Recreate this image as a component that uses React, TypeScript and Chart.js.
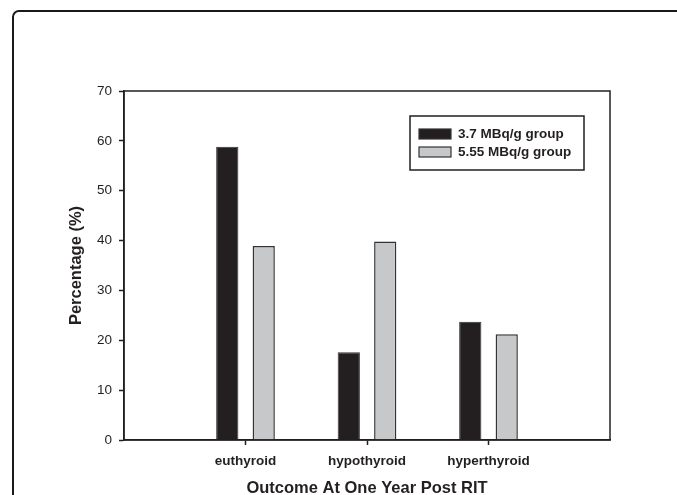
import React, { useEffect, useRef } from "react";
import { Chart, registerables } from "chart.js";

Chart.register(...registerables);

const categories = ["", "euthyroid", "hypothyroid", "hyperthyroid", ""];
const group37 = [null, 58.8, 17.6, 23.7, null];
const group555 = [null, 38.9, 39.8, 21.2, null];
const seriesNames = ["3.7 MBq/g group", "5.55 MBq/g group"];
const yTitle = "Percentage (%)";
const xTitle = "Outcome At One Year Post RIT";

const FONT = "'Liberation Sans', Arial, sans-serif";
const INK = "#231f20";

const boxPlugin = {
  id: "boxAndLegend",
  afterDraw(chart: any) {
    const { ctx, chartArea } = chart;
    ctx.save();
    ctx.strokeStyle = INK;
    ctx.lineWidth = 1.5;
    ctx.strokeRect(chartArea.left, chartArea.top, chartArea.right - chartArea.left, chartArea.bottom - chartArea.top);
    // legend box
    const w = 174, h = 54;
    const x = chartArea.right - 26 - w;
    const y = chartArea.top + 25;
    ctx.fillStyle = "#fff";
    ctx.fillRect(x, y, w, h);
    ctx.strokeRect(x, y, w, h);
    ctx.font = `bold 13.5px ${FONT}`;
    ctx.textBaseline = "middle";
    chart.data.datasets.forEach((ds: any, i: number) => {
      const cy = y + 18 + i * 18;
      ctx.fillStyle = ds.backgroundColor;
      ctx.fillRect(x + 9, cy - 5, 32, 10);
      ctx.lineWidth = 1.2;
      ctx.strokeStyle = "#333";
      ctx.strokeRect(x + 9, cy - 5, 32, 10);
      ctx.fillStyle = INK;
      ctx.fillText(ds.label, x + 48, cy);
    });
    ctx.restore();
  },
};

export default function App() {
  const ref = useRef<HTMLCanvasElement>(null);
  useEffect(() => {
    const chart = new Chart(ref.current!, {
      type: "bar",
      data: {
        labels: categories,
        datasets: [
          { label: seriesNames[0], data: group37 as any, backgroundColor: "#231f20", borderColor: "#333", borderWidth: 1 },
          { label: seriesNames[1], data: group555 as any, backgroundColor: "#c7c8ca", borderColor: "#333", borderWidth: 1.5 },
        ],
      },
      options: {
        animation: false,
        responsive: false,
        datasets: { bar: { categoryPercentage: 0.6, barPercentage: 0.61 } },
        layout: { padding: { top: 91, right: 67, left: 60, bottom: 0 } },
        plugins: { legend: { display: false }, tooltip: { enabled: false } },
        scales: {
          x: {
            offset: false,
            afterFit: (s: any) => { s.height = 55; },
            grid: {
              offset: false,
              drawOnChartArea: false,
              tickLength: 5,
              tickWidth: 1.5,
              tickColor: (c: any) => (categories[c.index] ? INK : "rgba(0,0,0,0)"),
            },
            border: { color: INK, width: 1.5 },
            ticks: { color: INK, padding: 8, font: { family: FONT, size: 13.5, weight: "bold" }, maxRotation: 0, autoSkip: false },
            title: { display: true, text: xTitle, color: INK, padding: { top: 0, bottom: -2 }, font: { family: FONT, size: 16.5, weight: "bold", lineHeight: 1 } },
          },
          y: {
            min: 0,
            max: 70,
            afterFit: (s: any) => { s.width = 64; },
            grid: { drawOnChartArea: false, tickLength: 5, tickWidth: 1.5, tickColor: INK },
            border: { color: INK, width: 1.5 },
            ticks: { stepSize: 10, color: INK, padding: 7, font: { family: FONT, size: 13.5 } },
            title: { display: true, text: yTitle, color: INK, padding: { top: 7, bottom: 0 }, font: { family: FONT, size: 16.5, weight: "bold" } },
          },
        },
      },
      plugins: [boxPlugin],
    });
    return () => chart.destroy();
  }, []);
  return (
    <div style={{ position: "fixed", left: 0, top: 0, width: 677, height: 495, background: "#fff", overflow: "hidden" }}>
      <div style={{ position: "absolute", left: 12, top: 10, width: 720, height: 600, border: "2px solid #1a1a1a", borderTopLeftRadius: 7, boxSizing: "border-box" }} />
      <canvas ref={ref} width={677} height={495} style={{ position: "absolute", left: 0, top: 0 }} />
    </div>
  );
}
